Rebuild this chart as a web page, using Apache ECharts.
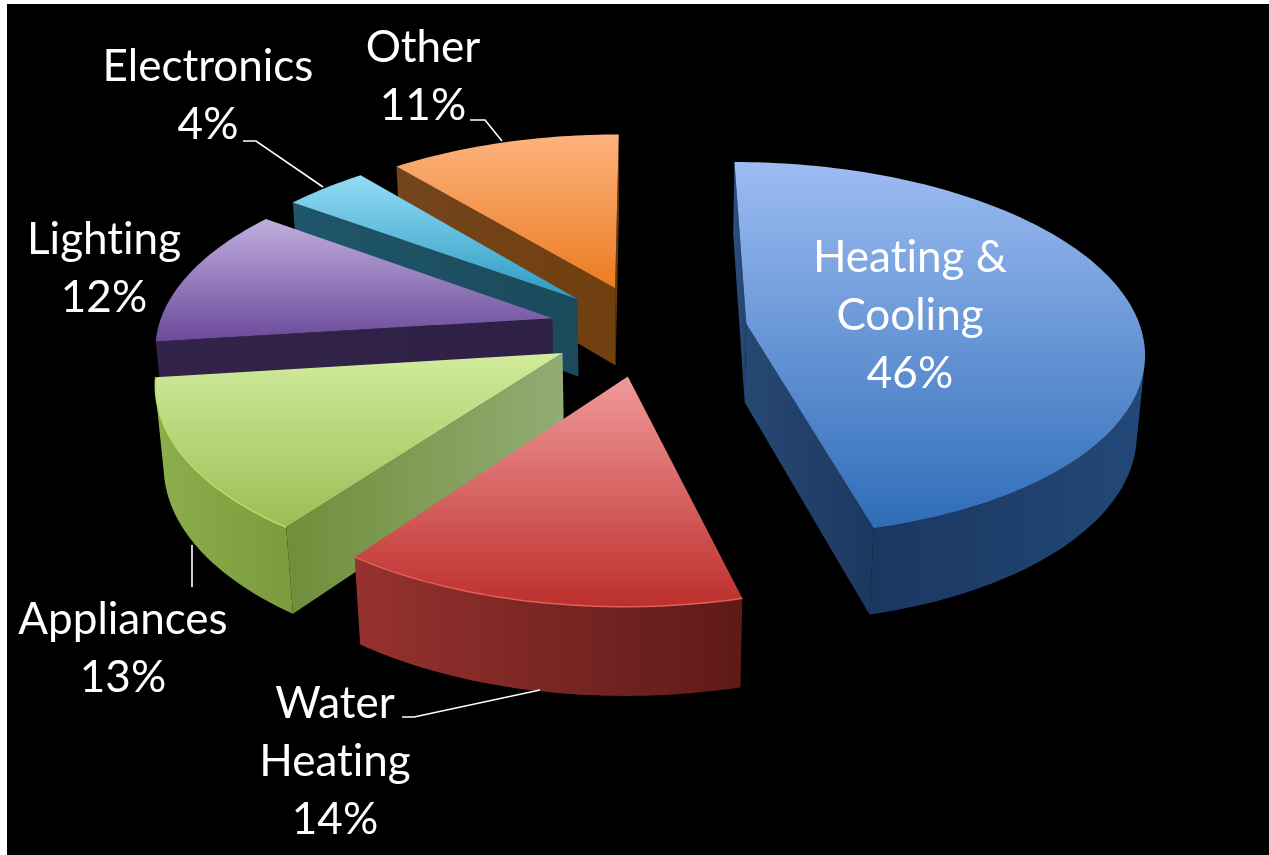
<!DOCTYPE html>
<html><head><meta charset="utf-8"><style>html,body{margin:0;background:#fff}#c{width:1269px;height:855px}</style>
<script src="https://cdn.jsdelivr.net/npm/echarts@6/dist/echarts.min.js"></script></head><body><div id="c"></div><script>
const categories=['Heating &\nCooling','Water\nHeating','Appliances','Lighting','Electronics','Other'];
const values=[46,14,13,12,4,11];
// style per slice
const topColors=[['#9dbcf2','#2f6db8'],['#f09a9a','#bd2f2c'],['#d2ec9c','#9cbc55'],['#c1aede','#6b4a9a'],['#93dbf5','#2b9cc2'],['#fcb27e','#ec7c22']];
const arcWall=[['#1a3760','#234878'],['#96322f','#5e1a18'],['#8dae4c','#7a9a3c'],['#35254f','#33234c'],['#1f5468','#1a4c60'],['#74441c','#74441c']];
const startWall=[['#2c4f80','#234470'],['#7a2422','#6a1e1c'],['#6f8f3a','#93ab74'],['#33234a','#2e2145'],['#1f5669','#1a4a5c'],['#74441c','#70400f']];
const endWall=[['#264872','#1c3860'],['#7a2422','#6a1e1c'],['#6f8f3a','#93ab74'],['#33234a','#2e2145'],['#1f5669','#1a4a5c'],['#6a3c14','#5e3410']];
const rimColors=[null,'#e0605c','#b9dc6c',null,null,null];
// camera and pie geometry
const cam={cx:646.849,cy:329.571,f:2569.377,pitch:0.488,dist:6.509,yaw:0,height:0.230};
const explode=[0.255,0.249,0.244,0.249,0.247,0.245];
// label layout: centre of first line, one per slice
const labelAt=[[910,258],[335,704],[123,620],[104,240],[208,67],[423,48]];
const lineGap=58;
const leaders=[null,[[402,717],[414,717],[540,690]],[[192,545],[192,587]],null,[[243,141],[256,141],[323,187]],[[470,120],[485,120],[502,141]]];
const fontFamily='Lato';const fontSize=44;

// the reference typeface has no "ti" ligature
const nativeFill=CanvasRenderingContext2D.prototype.fillText;
CanvasRenderingContext2D.prototype.fillText=function(){this.textRendering='optimizeSpeed';return nativeFill.apply(this,arguments);};

const total=values.reduce((a,b)=>a+b,0);
const bounds=[0];values.forEach(v=>bounds.push(bounds[bounds.length-1]+v/total));
const TAU=Math.PI*2;
function project(X,Y,h){const Z=cam.dist+Y*Math.cos(cam.pitch)-h*Math.sin(cam.pitch);
 const U=Y*Math.sin(cam.pitch)+h*Math.cos(cam.pitch);
 return [cam.cx+cam.f*X/Z,cam.cy-cam.f*U/Z];}
const camPos=[0,-cam.dist*Math.cos(cam.pitch),cam.dist*Math.sin(cam.pitch)];
const grad=(c,x)=>new echarts.graphic.LinearGradient(0,0,x?1:0,x?0:1,[{offset:0,color:c[0]},{offset:1,color:c[1]}]);
function sliceFrame(i){const a0=cam.yaw+bounds[i]*TAU,a1=cam.yaw+bounds[i+1]*TAU,m=(a0+a1)/2;
 return {a0,a1,ox:explode[i]*Math.sin(m),oy:explode[i]*Math.cos(m),depth:explode[i]*Math.cos(m)+0.5*Math.cos(m)};}
const order=values.map((v,i)=>i).sort((a,b)=>sliceFrame(b).depth-sliceFrame(a).depth);
function renderItem(params,api){
 const i=params.dataIndex,val=api.value(0),F=sliceFrame(i),rank=order.indexOf(i)*10;
 const N=Math.max(12,Math.round(val*3));
 const pt=(a,r,h)=>project(F.ox+r*Math.sin(a),F.oy+r*Math.cos(a),h);
 const H=-cam.height,ch=[];
 const face=(pts,fill,z)=>ch.push({type:'polygon',shape:{points:pts},z2:rank+z,style:{fill,stroke:null}});
 const vis=(nx,ny,px,py)=>nx*(camPos[0]-px)+ny*(camPos[1]-py)>0;
 // radial walls
 if(vis(-Math.cos(F.a0),Math.sin(F.a0),F.ox,F.oy))face([pt(0,0,0),pt(F.a0,1,0),pt(F.a0,1,H),pt(0,0,H)],grad(startWall[i],true),1);
 if(vis(Math.cos(F.a1),-Math.sin(F.a1),F.ox,F.oy))face([pt(0,0,0),pt(F.a1,1,0),pt(F.a1,1,H),pt(0,0,H)],grad(endWall[i],true),1);
 // outer wall: visible run of the arc
 const up=[],down=[];
 for(let k=0;k<=N;k++){const a=F.a0+(F.a1-F.a0)*k/N,nx=Math.sin(a),ny=Math.cos(a);
  if(vis(nx,ny,F.ox+nx,F.oy+ny)){up.push(pt(a,1,0));down.unshift(pt(a,1,H));}}
 if(up.length>1)face(up.concat(down),grad(arcWall[i],true),2);
 // top
 const top=[pt(0,0,0)],rim=[];
 for(let k=0;k<=N;k++){const p=pt(F.a0+(F.a1-F.a0)*k/N,1,0);top.push(p);rim.push(p);}
 face(top,grad(topColors[i],false),3);
 if(rimColors[i])ch.push({type:'polyline',shape:{points:rim},z2:rank+4,style:{stroke:rimColors[i],lineWidth:1.5,fill:null}});
 // leader and label
 if(leaders[i])ch.push({type:'polyline',shape:{points:leaders[i]},z2:900,style:{stroke:'#fff',lineWidth:1.6,fill:null}});
 const lines=categories[i].split('\n').concat([val+'%']);
 lines.forEach((t,k)=>ch.push({type:'text',z2:1000,style:{text:t,x:labelAt[i][0],y:labelAt[i][1]+k*lineGap,fill:'#fff',font:fontSize+'px '+fontFamily,align:'center',verticalAlign:'middle'}}));
 return {type:'group',children:ch};
}
const chart=echarts.init(document.getElementById('c'));
chart.setOption({animation:false,
 graphic:{elements:[{type:'rect',left:7,top:4,z:-1,shape:{width:1262,height:851},style:{fill:'#000'}}]},
 series:[{type:'custom',coordinateSystem:'none',silent:true,clip:false,data:values.map((v,i)=>({name:categories[i],value:[v,i]})),renderItem}]});
</script></body></html>
